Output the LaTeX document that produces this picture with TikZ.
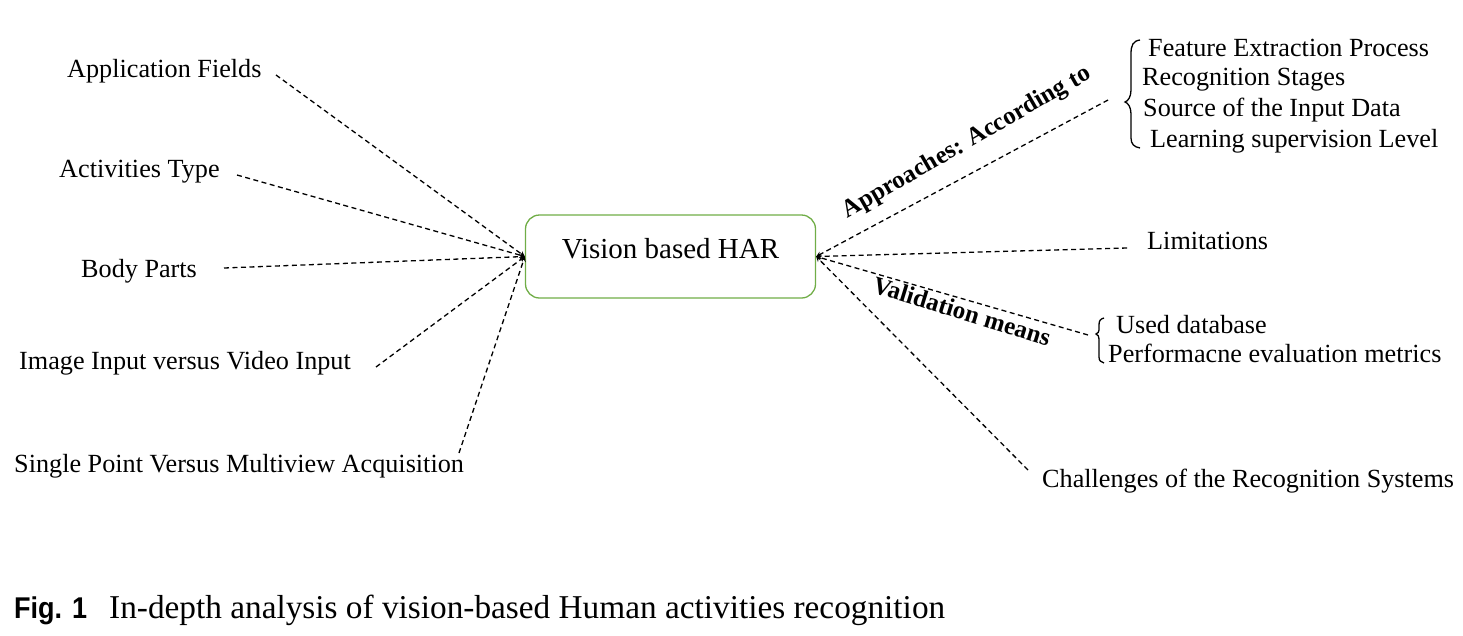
\documentclass[tikz,border=0pt]{standalone}
\usepackage{fontspec}
\setmainfont{Liberation Serif}
\newfontfamily\figsans[FakeStretch=0.9]{Liberation Sans}
\definecolor{hargreen}{RGB}{112,173,71}
\begin{document}
\begin{tikzpicture}[>=stealth,x=1pt,y=-1pt,
		lbl/.style={font=\fontsize{26.2}{30}\selectfont,inner sep=0pt,anchor=base west},
		tag/.style={font=\fontsize{25}{30}\selectfont\bfseries,inner sep=0pt},
		conn/.style={->,dash pattern=on 5pt off 3.5pt,line width=1.3pt},
		brc/.style={line width=1.3pt}]
			\useasboundingbox (0,0) rectangle (1463,635);
			% centre
			\node[draw=hargreen,line width=1.3pt,rounded corners=14pt,minimum width=290pt,minimum height=83pt,inner sep=0pt,text height=20pt,text depth=17pt,font=\fontsize{29}{34}\selectfont] (har) at (670.5,256.5) {Vision based HAR};
			% left side
			\node[lbl] (fields) at (67,77) {Application Fields};
			\coordinate (fieldsE) at (276,75);
			\draw[conn] (fieldsE) -- (har.west);
			\node[lbl] (type) at (59,177) {Activities Type};
			\coordinate (typeE) at (237,175);
			\draw[conn] (typeE) -- (har.west);
			\node[lbl] (body) at (81,277) {Body Parts};
			\coordinate (bodyE) at (224,268);
			\draw[conn] (bodyE) -- (har.west);
			\node[lbl] (input) at (19,369) {Image Input versus Video Input};
			\coordinate (inputE) at (376,367);
			\draw[conn] (inputE) -- (har.west);
			\node[lbl] (view) at (14,472) {Single Point Versus Multiview Acquisition};
			\coordinate (viewE) at (459,453);
			\draw[conn] (viewE) -- (har.west);
			% right side
			\coordinate (apprE) at (1108,100);
			\draw[conn] (apprE) -- (har.east);
			\node[tag,rotate=30] (appr) at (967,143) {Approaches: According to};
			\draw[brc] (1140,40) .. controls (1133,41) and (1131,45) .. (1131,54) -- (1131,90) .. controls (1131,97) and (1128,101) .. (1125,102) .. controls (1128,103) and (1131,107) .. (1131,114) -- (1131,138) .. controls (1131,144) and (1134,147) .. (1140,148);
			\node[lbl] (feat) at (1148,56) {Feature Extraction Process};
			\node[lbl] (stage) at (1142,85) {Recognition Stages};
			\node[lbl] (source) at (1143,116) {Source of the Input Data};
			\node[lbl] (learn) at (1150,147) {Learning supervision Level};
			\coordinate (limitE) at (1127,248);
			\draw[conn] (limitE) -- (har.east);
			\node[lbl] (limit) at (1147,249) {Limitations};
			\coordinate (validE) at (1088,335);
			\draw[conn] (validE) -- (har.east);
			\node[tag,rotate=-17] (valid) at (962,311) {Validation means};
			\draw[brc] (1104,318) .. controls (1100,319) and (1099,321) .. (1099,325) -- (1099,330) .. controls (1099,332) and (1098,333) .. (1096,334) .. controls (1098,335) and (1099,336) .. (1099,339) -- (1099,357) .. controls (1099,361) and (1101,362) .. (1104,363);
			\node[lbl] (db) at (1116,333) {Used database};
			\node[lbl] (metric) at (1108,362) {Performacne evaluation metrics};
			\coordinate (challE) at (1028,470);
			\draw[conn] (challE) -- (har.east);
			\node[lbl] (chall) at (1042,487) {Challenges of the Recognition Systems};
			% caption
			\node[font=\figsans\bfseries\fontsize{30}{34}\selectfont,inner sep=0pt,anchor=base west] (fig) at (14,618) {Fig. 1};
			\node[font=\fontsize{33.3}{38}\selectfont,inner sep=0pt,anchor=base west] (cap) at (109,618) {In-depth analysis of vision-based Human activities recognition};
\end{tikzpicture}
\end{document}
